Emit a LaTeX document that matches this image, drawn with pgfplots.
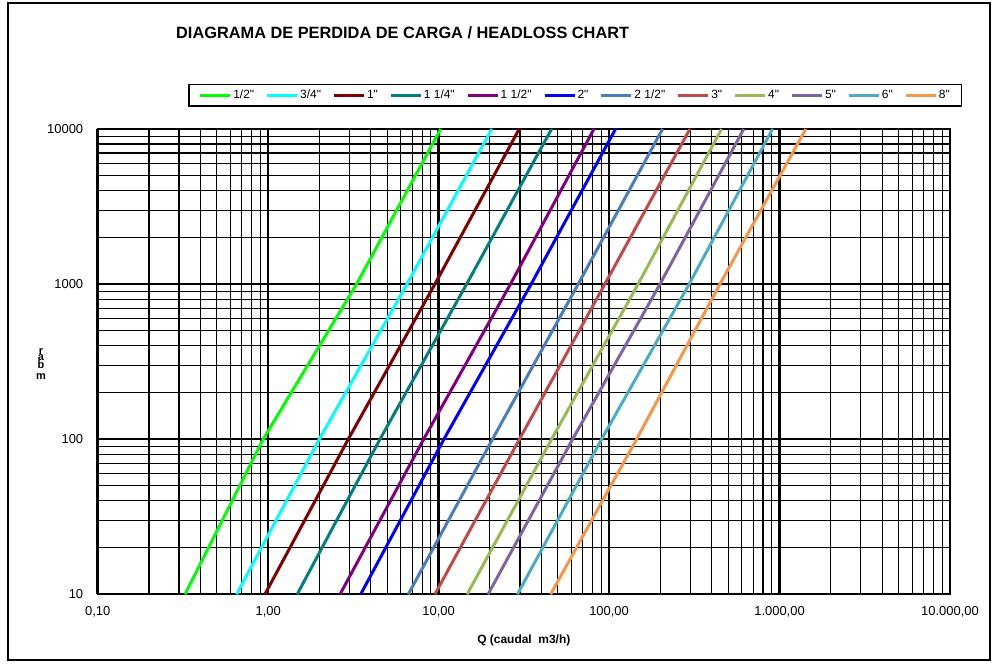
\documentclass[border=0pt]{standalone}
\usepackage{pgfplots}
\pgfplotsset{compat=1.18}
\usepackage{fontspec}
\setmainfont{Liberation Sans}[Ligatures=TeXOff]
\definecolor{cA}{RGB}{0,255,0}
\definecolor{cB}{RGB}{0,255,255}
\definecolor{cC}{RGB}{128,0,0}
\definecolor{cD}{RGB}{0,128,128}
\definecolor{cE}{RGB}{128,0,128}
\definecolor{cF}{RGB}{0,0,255}
\definecolor{cG}{RGB}{74,126,187}
\definecolor{cH}{RGB}{190,75,72}
\definecolor{cI}{RGB}{152,185,84}
\definecolor{cJ}{RGB}{128,100,162}
\definecolor{cK}{RGB}{75,172,198}
\definecolor{cL}{RGB}{247,150,70}
\pgfplotsset{legend image code/.code={\draw[#1,line width=3bp] (0bp,0bp) -- (30bp,0bp);}}
\begin{document}
\begin{tikzpicture}
\path[use as bounding box] (0,0) rectangle (997bp,668bp);
\draw[line width=1.5bp] (8bp,8bp) rectangle (990bp,665bp);
\node[anchor=west,font=\bfseries\fontsize{16.4}{18}\selectfont,inner sep=0pt] at (176bp,635bp) {DIAGRAMA DE PERDIDA DE CARGA / HEADLOSS CHART};
\node[font=\bfseries\fontsize{11}{12}\selectfont] at (41bp,316bp) {r};
\node[font=\bfseries\fontsize{11}{12}\selectfont] at (41bp,310bp) {a};
\node[font=\bfseries\fontsize{11}{12}\selectfont] at (41bp,303bp) {b};
\node[font=\bfseries\fontsize{11}{12}\selectfont] at (41bp,291bp) {m};
\begin{axis}[
  at={(97.7bp,73.7bp)}, anchor=south west,
  scale only axis, width=852.3bp, height=465.3bp,
  xmode=log, ymode=log,
  xmin=0.1, xmax=10000, ymin=10, ymax=10000,
  xtick={0.1,1,10,100,1000,10000},
  xticklabels={{0,10},{1,00},{10,00},{100,00},{1.000,00},{10.000,00}},
  ytick={10,100,1000,10000},
  yticklabels={10,100,1000,10000},
  minor xtick={0.2,0.3,0.4,0.5,0.6,0.7,0.8,0.9,2,3,4,5,6,7,8,9,20,30,40,50,60,70,80,90,200,300,400,500,600,700,800,900,2000,3000,4000,5000,6000,7000,8000,9000},
  minor ytick={20,30,40,50,60,70,80,90,200,300,400,500,600,700,800,900,2000,3000,4000,5000,6000,7000,8000,9000},
  grid=both,
  major grid style={black,line width=2.4bp},
  minor grid style={black,line width=1.1bp},
  axis line style={black,line width=2bp},
  major tick length=0pt, minor tick length=0pt,
  /pgf/number format/assume math mode=true,
  ticklabel style={font=\fontsize{13}{15}\selectfont},
  yticklabel style={xshift=-11bp},
  xticklabel style={yshift=-9bp},
  xlabel={Q (caudal \ m3/h)},
  xlabel style={font=\bfseries\fontsize{12}{14}\selectfont, yshift=-10bp},
  no marks,
  every axis plot/.append style={line width=3bp},
  legend columns=12,
  legend style={at={(0.106,1.0967)}, anchor=north west, draw=black, line width=1.5bp,
    font=\fontsize{12}{14}\selectfont, inner xsep=10bp, inner ysep=3.5bp,
    nodes={inner xsep=1.5bp, inner ysep=2bp},
    /tikz/every even column/.append style={column sep=10bp}},
]
\addplot[cA] coordinates {(0.325,10) (0.935,100) (3.30,1000) (10.28,10000)};
\addlegendentry{1/2"}
\addplot[cB] coordinates {(0.653,10) (1.995,100) (6.52,1000) (20.5,10000)};
\addlegendentry{3/4"}
\addplot[cC] coordinates {(0.957,10) (2.95,100) (9.51,1000) (29.7,10000)};
\addlegendentry{1"}
\addplot[cD] coordinates {(1.48,10) (4.53,100) (14.6,1000) (46.0,10000)};
\addlegendentry{1 1/4"}
\addplot[cE] coordinates {(2.64,10) (8.17,100) (26.4,1000) (81.5,10000)};
\addlegendentry{1 1/2"}
\addplot[cF] coordinates {(3.49,10) (10.74,100) (34.9,1000) (109.1,10000)};
\addlegendentry{2"}
\addplot[cG] coordinates {(6.64,10) (20.7,100) (65.9,1000) (206,10000)};
\addlegendentry{2 1/2"}
\addplot[cH] coordinates {(9.51,10) (29.8,100) (94.4,1000) (298,10000)};
\addlegendentry{3"}
\addplot[cI] coordinates {(14.7,10) (46.0,100) (148,1000) (457,10000)};
\addlegendentry{4"}
\addplot[cJ] coordinates {(19.5,10) (61.1,100) (199,1000) (617,10000)};
\addlegendentry{5"}
\addplot[cK] coordinates {(29.0,10) (90.4,100) (295,1000) (910,10000)};
\addlegendentry{6"}
\addplot[cL] coordinates {(45.4,10) (145,100) (447,1000) (1426,10000)};
\addlegendentry{8"}
\end{axis}
\end{tikzpicture}
\end{document}
